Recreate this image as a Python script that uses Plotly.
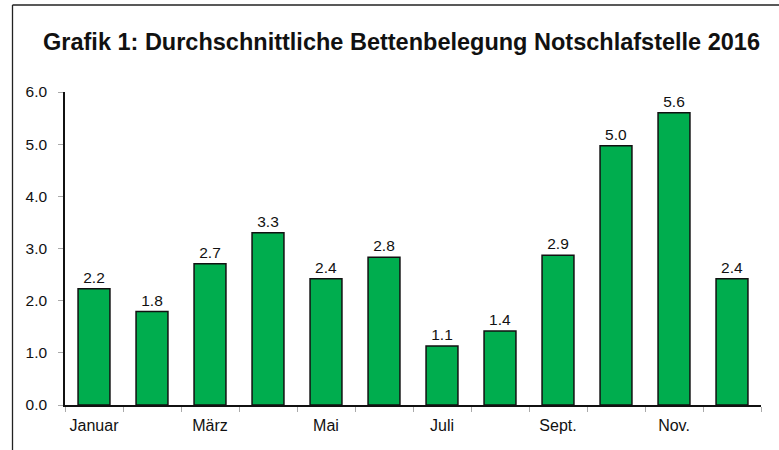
import plotly.graph_objects as go

months = ["Januar", "Februar", "März", "April", "Mai", "Juni", "Juli",
          "August", "September", "Oktober", "November", "Dezember"]
tick_labels = ["Januar", "", "März", "", "Mai", "", "Juli", "", "Sept.", "", "Nov.", ""]
occupancy = [2.23, 1.79, 2.71, 3.30, 2.42, 2.83, 1.13, 1.42, 2.87, 4.97, 5.60, 2.42]
y_ticks = [0, 1, 2, 3, 4, 5, 6]

title = "Grafik 1: Durchschnittliche Bettenbelegung Notschlafstelle 2016"

FONT = "Liberation Sans, Arial, Helvetica, sans-serif"

W, H = 779, 450
ml, mr, mt, mb = 65, 779 - 761, 92, 450 - 405
pw, ph = W - ml - mr, H - mt - mb
bx = (12.5 - ml) / pw
by = 1 + (mt - 5) / ph

fig = go.Figure(go.Bar(
    x=months,
    y=occupancy,
    marker=dict(color="#00AD4E", line=dict(color="#111111", width=1.5)),
    texttemplate="%{y:.1f}",
    textposition="outside",
    textfont=dict(family=FONT, size=15.5, color="#111111"),
    cliponaxis=False,
))

fig.update_layout(
    width=W, height=H,
    margin=dict(l=ml, r=mr, t=mt, b=mb, autoexpand=False),
    paper_bgcolor="white", plot_bgcolor="white",
    bargap=0.45,
    showlegend=False,
    font=dict(family=FONT, size=15, color="#111111"),
    title=dict(text="<b>" + title + "</b>", x=401.5 / W, xanchor="center", xref="container",
               y=1 - 42 / H, yref="container", yanchor="middle", automargin=False,
               font=dict(family=FONT, size=23.5, color="#111111")),
    xaxis=dict(
        type="category",
        tickvals=months, ticktext=tick_labels,
        tickson="boundaries", tickangle=0,
        ticks="outside", ticklen=5, tickcolor="#aaaaaa", tickwidth=1,
        showline=True, linecolor="#111111", linewidth=1.5,
        showgrid=False, zeroline=False, automargin=False,
        tickfont=dict(family=FONT, size=16, color="#111111"),
        ticklabelstandoff=5,
        range=[-0.5, 11.5],
    ),
    yaxis=dict(
        range=[0, 6], tickvals=y_ticks, tickformat=".1f",
        ticks="outside", ticklen=5, tickcolor="#aaaaaa", tickwidth=1,
        showline=True, linecolor="#111111", linewidth=1.5,
        showgrid=False, zeroline=False, automargin=False,
        tickfont=dict(family=FONT, size=15.5, color="#111111"),
        ticklabelstandoff=8,
    ),
    shapes=[
        dict(type="line", xref="paper", yref="paper", x0=bx, x1=bx, y0=-0.3, y1=by,
             line=dict(color="#222222", width=1.3)),
        dict(type="line", xref="paper", yref="paper", x0=bx, x1=1.2, y0=by, y1=by,
             line=dict(color="#222222", width=1.3)),
    ],
)

fig.write_html(
    "out.html",
    config={"displayModeBar": False},
    post_script="document.documentElement.style.margin='0';document.body.style.margin='0';"
                "document.body.style.overflow='hidden';window.scrollTo(0,0);",
)
